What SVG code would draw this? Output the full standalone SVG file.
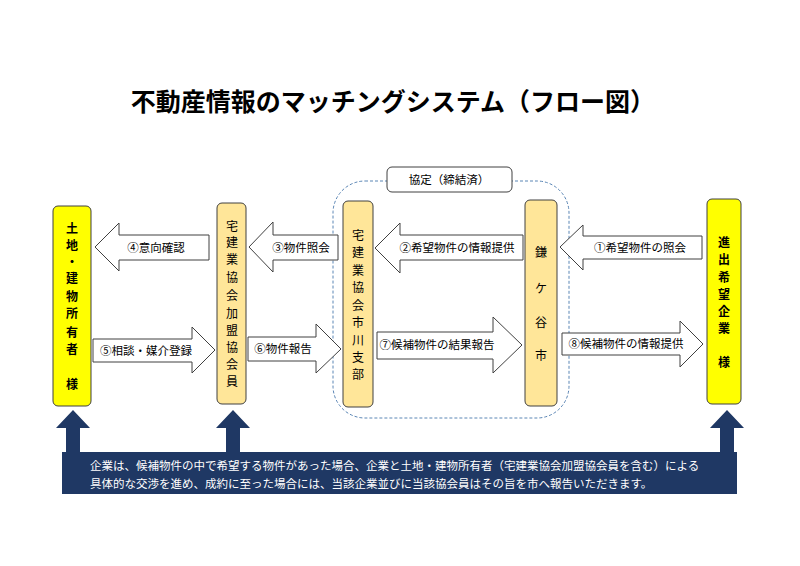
<svg xmlns="http://www.w3.org/2000/svg" width="800" height="566" viewBox="0 0 800 566">
<style>
text{font-family:"Noto Sans CJK JP","Noto Sans CJK SC",sans-serif;fill:#000}
.t{font-size:25px;font-weight:bold}
.v{font-size:12px;text-anchor:middle}
.vb{font-size:12px;font-weight:bold;text-anchor:middle}
.a{font-size:11.5px;text-anchor:middle}
.arr{fill:#fff;stroke:#404040;stroke-width:1}
.y{fill:#FFFF00;stroke:#404040;stroke-width:1}
.o{fill:#FFE699;stroke:#404040;stroke-width:1}
.w{font-size:11.5px;fill:#fff}
</style>
<rect width="800" height="566" fill="#fff"/>
<text class="t" x="393" y="111" text-anchor="middle">不動産情報のマッチングシステム（フロー図）</text>
<g id="agreement">
<rect x="333" y="181" width="236" height="237" rx="32" fill="none" stroke="#5B86B5" stroke-width="1" stroke-dasharray="3,2"/>
<rect x="387" y="167" width="125" height="25" rx="5" fill="#fff" stroke="#404040"/>
<text class="a" x="449" y="184">協定（締結済）</text>
</g>
<g id="connectors">
<path class="arr" d="M95,247 L119,223 L119,235 L209,235 L209,260 L119,260 L119,271 Z"/>
<text class="a" x="156" y="252">④意向確認</text>
<path class="arr" d="M249,247 L273,222 L273,235 L338,235 L338,260 L273,260 L273,272 Z"/>
<text class="a" x="301" y="252">③物件照会</text>
<path class="arr" d="M375,248 L400,223 L400,235 L523,235 L523,260 L400,260 L400,273 Z"/>
<text class="a" x="457" y="252">②希望物件の情報提供</text>
<path class="arr" d="M560,247 L583,225 L583,236 L702,236 L702,259 L583,259 L583,270 Z"/>
<text class="a" x="640" y="252">①希望物件の照会</text>
<path class="arr" d="M93,339 L192,339 L192,327 L215,350 L192,373 L192,362 L93,362 Z"/>
<text class="a" x="146" y="355">⑤相談・媒介登録</text>
<path class="arr" d="M248,337 L316,337 L316,324 L341,349 L316,373 L316,361 L248,361 Z"/>
<text class="a" x="283" y="353">⑥物件報告</text>
<path class="arr" d="M377,332 L493,332 L493,317 L522,345 L493,373 L493,359 L377,359 Z"/>
<text class="a" x="437" y="349">⑦候補物件の結果報告</text>
<path class="arr" d="M562,333 L680,333 L680,321 L703,344 L680,367 L680,355 L562,355 Z"/>
<text class="a" x="626" y="348">⑧候補物件の情報提供</text>
</g>
<g id="owner">
<rect class="y" x="53" y="206" width="38" height="200" rx="5"/>
<text class="vb" x="72"><tspan x="72" y="233">土</tspan><tspan x="72" y="250">地</tspan><tspan x="72" y="267">・</tspan><tspan x="72" y="283">建</tspan><tspan x="72" y="301">物</tspan><tspan x="72" y="318">所</tspan><tspan x="72" y="337">有</tspan><tspan x="72" y="354">者</tspan><tspan x="72" y="389">様</tspan></text>
</g>
<g id="member">
<rect class="o" x="217" y="203" width="29" height="201" rx="5"/>
<text class="v" x="232"><tspan x="232" y="231">宅</tspan><tspan x="232" y="247">建</tspan><tspan x="232" y="264">業</tspan><tspan x="232" y="282">協</tspan><tspan x="232" y="300">会</tspan><tspan x="232" y="318">加</tspan><tspan x="232" y="335">盟</tspan><tspan x="232" y="352">協</tspan><tspan x="232" y="369">会</tspan><tspan x="232" y="386">員</tspan></text>
</g>
<g id="branch">
<rect class="o" x="343" y="201" width="30" height="206" rx="5"/>
<text class="v" x="358"><tspan x="358" y="240">宅</tspan><tspan x="358" y="257">建</tspan><tspan x="358" y="275">業</tspan><tspan x="358" y="292">協</tspan><tspan x="358" y="310">会</tspan><tspan x="358" y="327">市</tspan><tspan x="358" y="345">川</tspan><tspan x="358" y="362">支</tspan><tspan x="358" y="379">部</tspan></text>
</g>
<g id="city">
<rect class="o" x="525" y="200" width="32" height="206" rx="5"/>
<text class="v" x="541"><tspan x="541" y="257">鎌</tspan><tspan x="541" y="293">ケ</tspan><tspan x="541" y="327">谷</tspan><tspan x="541" y="360">市</tspan></text>
</g>
<g id="company">
<rect class="y" x="707" y="199" width="34" height="205" rx="5"/>
<text class="vb" x="724"><tspan x="724" y="247">進</tspan><tspan x="724" y="264">出</tspan><tspan x="724" y="282">希</tspan><tspan x="724" y="299">望</tspan><tspan x="724" y="316">企</tspan><tspan x="724" y="333">業</tspan><tspan x="724" y="367">様</tspan></text>
</g>
<g id="note">
<path fill="#1F3864" d="M62,452 L66,452 L66,428 L56,428 L73,410 L90,428 L80,428 L80,452 L226,452 L226,428 L216,428 L233,410 L250,428 L240,428 L240,452 L720,452 L720,428 L710,428 L727,410 L744,428 L734,428 L734,452 L737,452 L737,494 L62,494 Z"/>
<text class="w" x="90" y="470">企業は、候補物件の中で希望する物件があった場合、企業と土地・建物所有者（宅建業協会加盟協会員を含む）による</text>
<text class="w" x="90" y="488">具体的な交渉を進め、成約に至った場合には、当該企業並びに当該協会員はその旨を市へ報告いただきます。</text>
</g>
</svg>
